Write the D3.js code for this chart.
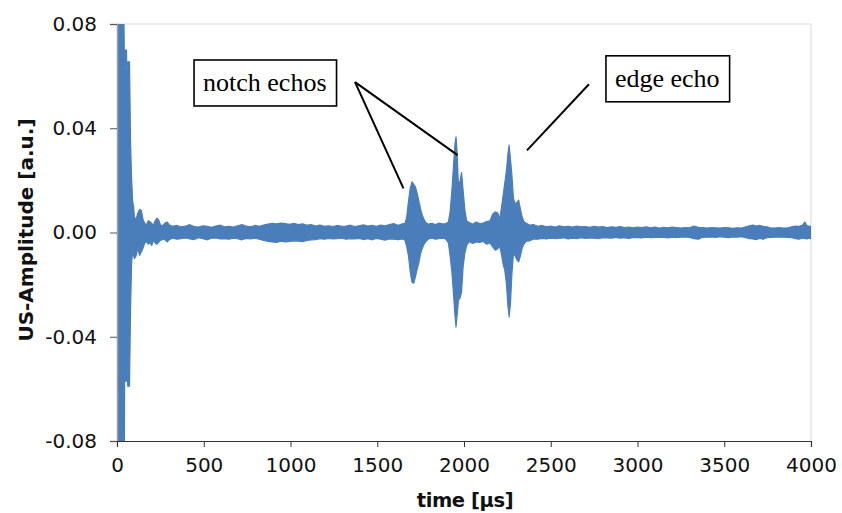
<!DOCTYPE html>
<html>
<head>
<meta charset="utf-8">
<script src="https://cdn.jsdelivr.net/npm/d3@7"></script>
<style>
  html, body { margin: 0; padding: 0; background: #fff; }
  svg { display: block; }
</style>
</head>
<body>
<svg id="chart" width="842" height="513"></svg>
<script>
// ---- Data ----
// time [µs] sample positions of the signal envelope
const time = [
  0,10,20,30,38,42,44,55,56,62,72,78,84,90,96,
  100,110,120,130,140,150,160,170,180,190,200,210,220,230,240,250,260,270,280,290,300,
  320,345,370,395,420,445,470,495,520,545,570,595,620,645,670,695,720,745,770,795,
  820,845,870,895,920,945,970,995,1020,1045,1070,1095,1120,1145,1170,1195,1220,1245,
  1270,1295,1320,1345,1370,1395,1420,1445,1470,1495,1520,1545,1570,1595,1620,1645,
  1660,1670,1680,1690,1700,1710,1720,1730,1740,1750,1760,1770,1780,1795,1815,1835,1855,1875,1895,
  1910,1920,1930,1940,1948,1954,1960,1968,1978,1986,1995,2005,2015,2030,2050,2070,2090,2110,2130,2150,
  2165,2180,2195,2205,2215,2225,2235,2245,2253,2260,2268,2276,2285,2295,2305,2315,2325,2335,2345,2360,2380,2400,
  2425,2450,2475,2500,2525,2550,2575,2600,2625,2650,2675,2700,2725,2750,2775,2800,2825,2850,2875,2900,
  2925,2950,2975,3000,3025,3050,3075,3100,3125,3150,3175,3200,3225,3250,3275,3300,3325,3350,3375,3400,
  3425,3450,3475,3500,3525,3550,3575,3600,3625,3645,3665,3685,3705,3725,3745,3765,3790,3815,3840,3865,
  3890,3910,3930,3950,3965,3975,3990,4000
];
// upper envelope of the US amplitude [a.u.]
const upper = [
  0.095,0.095,0.095,0.095,0.095,0.070,0.070,0.070,0.062,0.0655,0.0655,0.035,0.021,0.012,0.010,
  0.006,0.005,0.0075,0.0088,0.0085,0.005,0.0035,0.003,0.0045,0.0042,0.0035,0.0028,0.0045,0.0055,0.0048,0.003,0.0025,0.0032,0.0038,0.004,0.003,
  0.0024,0.0027,0.0022,0.0025,0.003,0.0023,0.0021,0.0026,0.0024,0.002,0.0025,0.0028,0.0022,0.0024,0.0021,0.0026,0.003,0.0025,0.0022,0.0027,
  0.0024,0.0028,0.0032,0.0035,0.0033,0.0036,0.0034,0.0031,0.0035,0.003,0.0033,0.0028,0.003,0.0025,0.0028,0.0024,0.0026,0.0023,
  0.0027,0.0024,0.0025,0.0028,0.0023,0.0026,0.0029,0.0025,0.0027,0.0024,0.0028,0.0026,0.003,0.0034,0.0028,0.0033,
  0.0035,0.006,0.012,0.017,0.0194,0.0185,0.0175,0.015,0.012,0.009,0.0065,0.005,0.0038,0.0032,0.0035,0.003,0.0036,0.0033,0.0034,
  0.004,0.008,0.016,0.026,0.034,0.0367,0.031,0.018,0.020,0.023,0.016,0.0086,0.0045,0.0038,0.0032,0.0040,0.0034,0.0036,0.0042,0.0045,
  0.007,0.0079,0.0075,0.005,0.009,0.014,0.019,0.024,0.030,0.0335,0.028,0.022,0.013,0.011,0.0115,0.0124,0.009,0.006,0.0042,0.0035,0.0028,0.003,
  0.0024,0.0027,0.0022,0.0025,0.0021,0.0026,0.0022,0.0024,0.0021,0.0025,0.0022,0.0023,0.002,0.0024,0.0021,0.0023,0.0019,0.0022,0.002,0.0023,
  0.0019,0.0021,0.0018,0.0021,0.0019,0.0022,0.0018,0.0021,0.0017,0.002,0.0018,0.0021,0.0019,0.0017,0.0019,0.0018,0.0025,0.002,0.0019,0.0017,
  0.0019,0.0018,0.0017,0.0019,0.0018,0.0016,0.0018,0.0017,0.0022,0.0026,0.0028,0.0025,0.0027,0.0024,0.0022,0.0018,0.0017,0.0019,0.0017,0.0018,
  0.0022,0.0025,0.0024,0.0028,0.004,0.0027,0.0024,0.0025
];
// lower envelope of the US amplitude [a.u.]
const lower = [
  -0.095,-0.095,-0.095,-0.095,-0.095,-0.095,-0.057,-0.057,-0.050,-0.059,-0.059,-0.030,-0.012,-0.007,-0.009,
  -0.010,-0.009,-0.006,-0.0088,-0.0075,-0.006,-0.004,-0.0035,-0.0045,-0.0038,-0.005,-0.003,-0.004,-0.0045,-0.0038,-0.003,-0.0028,-0.0025,-0.003,-0.0036,-0.0028,
  -0.0022,-0.0026,-0.0024,-0.0021,-0.0025,-0.0027,-0.002,-0.0024,-0.0028,-0.0022,-0.0021,-0.0025,-0.0024,-0.0026,-0.0022,-0.0024,-0.0028,-0.0023,-0.0025,-0.0022,
  -0.0026,-0.003,-0.0034,-0.0036,-0.0038,-0.0033,-0.0036,-0.0034,-0.0032,-0.0033,-0.0035,-0.003,-0.0028,-0.0027,-0.0024,-0.0026,-0.0023,-0.0025,
  -0.0024,-0.0022,-0.0026,-0.0024,-0.0025,-0.0023,-0.0027,-0.0024,-0.0028,-0.0023,-0.0026,-0.0029,-0.0025,-0.0026,-0.0027,-0.0025,
  -0.003,-0.0055,-0.009,-0.015,-0.019,-0.0195,-0.017,-0.014,-0.0115,-0.008,-0.006,-0.0045,-0.0035,-0.0025,-0.0022,-0.0026,-0.0024,-0.0022,-0.0025,
  -0.004,-0.009,-0.015,-0.024,-0.032,-0.0362,-0.032,-0.026,-0.025,-0.0228,-0.013,-0.008,-0.005,-0.0035,-0.0042,-0.0036,-0.0038,-0.0034,-0.0045,-0.004,
  -0.0055,-0.0068,-0.0062,-0.005,-0.008,-0.012,-0.0145,-0.020,-0.028,-0.0324,-0.027,-0.016,-0.008,-0.009,-0.0105,-0.0113,-0.009,-0.006,-0.0045,-0.0033,-0.0032,-0.0025,
  -0.0026,-0.0023,-0.0025,-0.0022,-0.0024,-0.0023,-0.002,-0.0025,-0.0022,-0.0024,-0.002,-0.0023,-0.0021,-0.0022,-0.0024,-0.002,-0.0021,-0.0022,-0.0019,-0.0022,
  -0.002,-0.0023,-0.0019,-0.002,-0.0021,-0.0018,-0.002,-0.0019,-0.0018,-0.0019,-0.0021,-0.0018,-0.002,-0.0018,-0.0017,-0.0019,-0.0024,-0.0026,-0.0019,-0.0018,
  -0.0017,-0.0019,-0.0016,-0.0018,-0.002,-0.0017,-0.0018,-0.0016,-0.002,-0.0024,-0.0025,-0.0027,-0.0023,-0.0026,-0.002,-0.0019,-0.0018,-0.0017,-0.0018,-0.0019,
  -0.002,-0.0024,-0.0026,-0.0022,-0.0023,-0.0025,-0.0022,-0.0024
];
const xTicks = [0,500,1000,1500,2000,2500,3000,3500,4000];
const yTicks = [-0.08,-0.04,0.00,0.04,0.08];
const xTitle = "time [µs]";
const yTitle = "US-Amplitude [a.u.]";
// annotations: label anchored at [time, amplitude], callout lines in data coordinates
const annotLabels = ["notch echos", "edge echo"];
const annotAnchor = [[496, 0.0543], [2870, 0.0559]];
const annotLines = [
  [[1372, 0.0577], [1651, 0.0169]],
  [[1372, 0.0577], [1963, 0.0297]],
  [[2720, 0.0569], [2363, 0.0315]]
];

// ---- Drawing ----
const svg = d3.select("#chart");
const x = d3.scaleLinear().domain([0, 4000]).range([117, 811]);
const y = d3.scaleLinear().domain([-0.08, 0.08]).range([441, 24]);
const blue = "#4A7EBB";
const fmtY = d => d3.format(".2f")(d).replace("−", "-");

svg.append("defs").append("clipPath").attr("id", "plotclip")
  .append("rect").attr("x", x(0)).attr("y", y(0.08))
  .attr("width", x(4000) - x(0)).attr("height", y(-0.08) - y(0.08));

// frame (top and right)
svg.append("line").attr("x1", x(0)).attr("x2", x(4000)).attr("y1", y(0.08)).attr("y2", y(0.08))
  .attr("stroke", "#d9d9d9").attr("stroke-width", 1);
svg.append("line").attr("x1", x(4000)).attr("x2", x(4000)).attr("y1", y(0.08)).attr("y2", y(-0.08))
  .attr("stroke", "#d9d9d9").attr("stroke-width", 1);

// signal
const sig = time.map((t, i) => ({t, hi: upper[i], lo: lower[i]}));
const area = d3.area().x(d => x(d.t)).y0(d => y(d.lo)).y1(d => y(d.hi)).curve(d3.curveLinear);
svg.append("path").datum(sig).attr("clip-path", "url(#plotclip)")
  .attr("d", area).attr("fill", blue).attr("stroke", blue).attr("stroke-width", 1.2)
  .attr("stroke-linejoin", "round");

// axes
const gy = svg.append("g").attr("transform", `translate(${x(0)},0)`)
  .call(d3.axisLeft(y).tickValues(yTicks).tickFormat(fmtY).tickSize(7).tickPadding(13));
gy.select(".domain").attr("stroke", "#a0a0a0").attr("stroke-width", 1.5);
gy.selectAll(".tick line").attr("stroke", "#555");
gy.selectAll("text").attr("font-family", "DejaVu Sans").attr("font-size", 20).attr("fill", "#111");

const gx = svg.append("g").attr("transform", `translate(0,${y(-0.08)})`)
  .call(d3.axisBottom(x).tickValues(xTicks).tickFormat(d3.format("d")).tickSize(6).tickPadding(11));
gx.select(".domain").attr("stroke", "#333").attr("stroke-width", 1.2);
gx.selectAll(".tick line").attr("stroke", "#333");
gx.selectAll("text").attr("font-family", "DejaVu Sans").attr("font-size", 20).attr("fill", "#111");

// titles
svg.append("text").attr("x", 465).attr("y", 507).attr("text-anchor", "middle")
  .attr("font-family", "DejaVu Sans").attr("font-weight", "bold").attr("font-size", 19.5)
  .attr("letter-spacing", -0.4).attr("fill", "#111").text(xTitle);
svg.append("text").attr("transform", "translate(33,230) rotate(-90)").attr("text-anchor", "middle")
  .attr("font-family", "DejaVu Sans").attr("font-weight", "bold").attr("font-size", 20)
  .attr("letter-spacing", 0).attr("fill", "#111").text(yTitle);

// annotations
annotLines.forEach(l => {
  svg.append("line").attr("x1", x(l[0][0])).attr("y1", y(l[0][1]))
    .attr("x2", x(l[1][0])).attr("y2", y(l[1][1]))
    .attr("stroke", "#000").attr("stroke-width", 2);
});
annotLabels.forEach((lab, i) => {
  const g = svg.append("g");
  const t = g.append("text").attr("x", x(annotAnchor[i][0])).attr("y", y(annotAnchor[i][1]))
    .attr("font-family", "Liberation Serif").attr("font-size", 26).attr("fill", "#000").text(lab);
  const bb = t.node().getBBox();
  g.insert("rect", "text").attr("x", bb.x - 9).attr("y", bb.y - 8)
    .attr("width", bb.width + 19).attr("height", bb.height + 17)
    .attr("fill", "#fff").attr("stroke", "#000").attr("stroke-width", 1.6);
});
</script>
</body>
</html>
